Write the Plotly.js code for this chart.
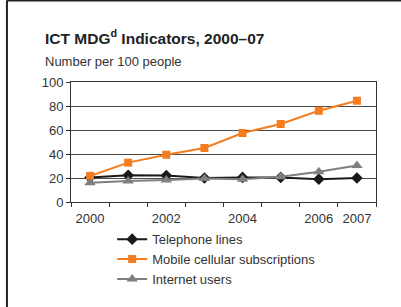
<!DOCTYPE html>
<html><head><meta charset="utf-8">
<script src="https://cdn.plot.ly/plotly-3.0.1.min.js"></script>
<style>html,body{margin:0;padding:0;background:#fff}#chart{width:401px;height:307px}</style>
</head><body><div id="chart"></div>
<script>
const years = ['2000','2001','2002','2003','2004','2005','2006','2007'];
const tickLabels = ['2000','','2002','','2004','','2006','2007'];
const telephone = [20.5, 22.2, 22, 20, 20.5, 20.5, 19, 20];
const mobile = [21.7, 32.8, 39.4, 45, 57.5, 65, 76, 84.4];
const internet = [16, 17.5, 18.3, 19.5, 19, 21, 25.3, 30.5];
const seriesNames = ['Telephone lines', 'Mobile cellular subscriptions', 'Internet users'];

const F = '"Liberation Sans", Arial, sans-serif';
const textColor = '#333333';

const traces = [
  {x: years, y: telephone, name: seriesNames[0], mode: 'lines+markers', type: 'scatter',
   line: {color: '#1a1a1a', width: 2}, marker: {symbol: 'diamond', size: 9, color: '#1a1a1a'}},
  {x: years, y: mobile, name: seriesNames[1], mode: 'lines+markers', type: 'scatter',
   line: {color: '#f47d20', width: 2}, marker: {symbol: 'square', size: 8, color: '#f47d20'}},
  {x: years, y: internet, name: seriesNames[2], mode: 'lines+markers', type: 'scatter',
   line: {color: '#7f7f7f', width: 2}, marker: {symbol: 'triangle-up', size: 10, color: '#7f7f7f'}}
];

const layout = {
  width: 401, height: 307,
  margin: {l: 71, r: 25, t: 82, b: 105, autoexpand: false},
  paper_bgcolor: '#ffffff', plot_bgcolor: '#ffffff',
  font: {family: F, color: textColor, size: 13},
  showlegend: true,
  legend: {x: 0.135, xanchor: 'left', y: -0.185, yanchor: 'top',
           orientation: 'v', font: {family: F, size: 13, color: textColor},
           bgcolor: 'rgba(0,0,0,0)', tracegroupgap: 0},
  xaxis: {type: 'category', tickvals: years, ticktext: tickLabels, tickson: 'boundaries',
          ticks: 'outside', ticklen: 4, tickcolor: '#333', showgrid: false, tickangle: 0,
          ticklabelstandoff: 4,
          showline: true, linecolor: '#333', linewidth: 1, mirror: true, zeroline: false,
          tickfont: {family: F, size: 13, color: textColor}, range: [-0.5, 7.5], fixedrange: true},
  yaxis: {range: [0, 100], dtick: 20, ticks: 'outside', ticklen: 4, tickcolor: '#333',
          showgrid: true, gridcolor: '#4a4a4a', gridwidth: 1, showline: true, linecolor: '#333',
          linewidth: 1, mirror: true, zeroline: false,
          tickfont: {family: F, size: 13, color: textColor}, fixedrange: true},
  annotations: [
    {xref: 'paper', yref: 'paper', x: -0.092, y: 1.275, xanchor: 'left', yanchor: 'bottom',
     text: '<b>ICT MDG<sup>d</sup> Indicators, 2000–07</b>', showarrow: false,
     font: {family: F, size: 15.5, color: '#222'}},
    {xref: 'paper', yref: 'paper', x: -0.092, y: 1.09, xanchor: 'left', yanchor: 'bottom',
     text: 'Number per 100 people', showarrow: false,
     font: {family: F, size: 13, color: textColor}}
  ],
  shapes: [
    {type: 'line', xref: 'paper', yref: 'paper', x0: -0.21, x1: 1.1, y0: 1.68, y1: 1.68,
     line: {color: '#222', width: 2}},
    {type: 'line', xref: 'paper', yref: 'paper', x0: -0.21, x1: -0.21, y0: 1.68, y1: -0.9,
     line: {color: '#222', width: 2}}
  ]
};

Plotly.newPlot('chart', traces, layout, {displayModeBar: false, staticPlot: true});
</script></body></html>
